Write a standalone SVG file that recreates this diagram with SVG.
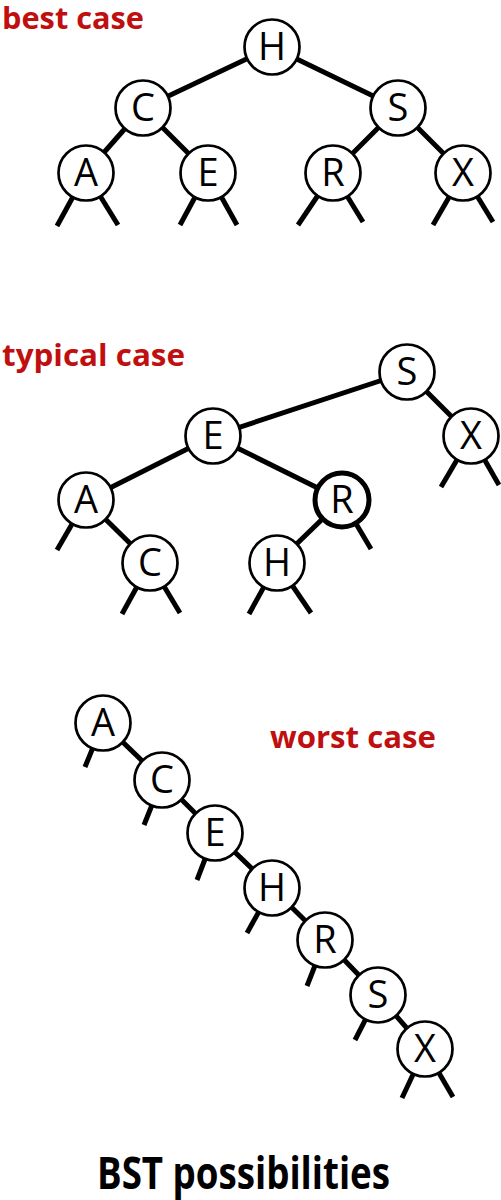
<svg xmlns="http://www.w3.org/2000/svg" width="501" height="1200" viewBox="0 0 501 1200">
<style>
.e{stroke:#000;stroke-width:5;fill:none;stroke-linecap:butt}
.n circle{fill:#fff;stroke:#000;stroke-width:2.7}
.n.bold circle{stroke-width:5}
.n text{font-family:"Open Sans","Noto Sans",sans-serif;font-size:38px;text-anchor:middle;fill:#000}
.lbl{font-family:"Open Sans","Noto Sans",sans-serif;font-weight:bold;font-size:31px;fill:#c00f0f}
.title{font-family:"Open Sans","Noto Sans",sans-serif;font-weight:bold;font-size:44px;fill:#000}
</style>
<rect width="501" height="1200" fill="#fff"/>
<text class="lbl" x="2" y="29" textLength="142" lengthAdjust="spacingAndGlyphs">best case</text>
<text class="lbl" x="2" y="366" textLength="183" lengthAdjust="spacingAndGlyphs">typical case</text>
<text class="lbl" x="270" y="748" textLength="166" lengthAdjust="spacingAndGlyphs">worst case</text>
<text class="title" x="97" y="1189" textLength="293" lengthAdjust="spacingAndGlyphs">BST possibilities</text>
<g id="connectors">
<line class="e" x1="272" y1="47" x2="143" y2="108"/>
<line class="e" x1="272" y1="47" x2="398" y2="108"/>
<line class="e" x1="143" y1="108" x2="86" y2="173"/>
<line class="e" x1="143" y1="108" x2="208" y2="173"/>
<line class="e" x1="398" y1="108" x2="333" y2="173"/>
<line class="e" x1="398" y1="108" x2="463" y2="173"/>
<line class="e" x1="86" y1="173" x2="57" y2="226"/>
<line class="e" x1="86" y1="173" x2="118" y2="225"/>
<line class="e" x1="208" y1="173" x2="180" y2="225"/>
<line class="e" x1="208" y1="173" x2="237" y2="225"/>
<line class="e" x1="333" y1="173" x2="298" y2="225"/>
<line class="e" x1="333" y1="173" x2="363" y2="222"/>
<line class="e" x1="463" y1="173" x2="433" y2="225"/>
<line class="e" x1="463" y1="173" x2="493" y2="222"/>
<line class="e" x1="407" y1="372" x2="213" y2="436"/>
<line class="e" x1="407" y1="372" x2="471" y2="436"/>
<line class="e" x1="213" y1="436" x2="86" y2="500"/>
<line class="e" x1="213" y1="436" x2="342" y2="500"/>
<line class="e" x1="86" y1="500" x2="150" y2="563"/>
<line class="e" x1="342" y1="500" x2="277" y2="563"/>
<line class="e" x1="471" y1="436" x2="441" y2="487"/>
<line class="e" x1="471" y1="436" x2="499" y2="485"/>
<line class="e" x1="86" y1="500" x2="57" y2="550"/>
<line class="e" x1="342" y1="500" x2="371" y2="549"/>
<line class="e" x1="150" y1="563" x2="122" y2="614"/>
<line class="e" x1="150" y1="563" x2="180" y2="613"/>
<line class="e" x1="277" y1="563" x2="249" y2="614"/>
<line class="e" x1="277" y1="563" x2="311" y2="613"/>
<line class="e" x1="103" y1="723" x2="162" y2="780"/>
<line class="e" x1="162" y1="780" x2="215" y2="833"/>
<line class="e" x1="215" y1="833" x2="272" y2="888"/>
<line class="e" x1="272" y1="888" x2="325" y2="940"/>
<line class="e" x1="325" y1="940" x2="378" y2="995"/>
<line class="e" x1="378" y1="995" x2="425" y2="1049"/>
<line class="e" x1="103" y1="723" x2="85" y2="767"/>
<line class="e" x1="162" y1="780" x2="144" y2="825"/>
<line class="e" x1="215" y1="833" x2="197" y2="880"/>
<line class="e" x1="272" y1="888" x2="247" y2="933"/>
<line class="e" x1="325" y1="940" x2="307" y2="986"/>
<line class="e" x1="378" y1="995" x2="355" y2="1040"/>
<line class="e" x1="425" y1="1049" x2="402" y2="1098"/>
<line class="e" x1="425" y1="1049" x2="453" y2="1097"/>
</g>
<g id="b-H" class="n"><circle cx="272" cy="47" r="27.5"/><text x="272" y="60">H</text></g>
<g id="b-C" class="n"><circle cx="143" cy="108" r="27.5"/><text x="143" y="121">C</text></g>
<g id="b-S" class="n"><circle cx="398" cy="108" r="27.5"/><text x="398" y="121">S</text></g>
<g id="b-A" class="n"><circle cx="86" cy="173" r="27.5"/><text x="86" y="186">A</text></g>
<g id="b-E" class="n"><circle cx="208" cy="173" r="27.5"/><text x="208" y="186">E</text></g>
<g id="b-R" class="n"><circle cx="333" cy="173" r="27.5"/><text x="333" y="186">R</text></g>
<g id="b-X" class="n"><circle cx="463" cy="173" r="27.5"/><text x="463" y="186">X</text></g>
<g id="t-S" class="n"><circle cx="407" cy="372" r="27.5"/><text x="407" y="385">S</text></g>
<g id="t-E" class="n"><circle cx="213" cy="436" r="27.5"/><text x="213" y="449">E</text></g>
<g id="t-X" class="n"><circle cx="471" cy="436" r="27.5"/><text x="471" y="449">X</text></g>
<g id="t-A" class="n"><circle cx="86" cy="500" r="27.5"/><text x="86" y="513">A</text></g>
<g id="t-R" class="n bold"><circle cx="342" cy="500" r="27"/><text x="342" y="513">R</text></g>
<g id="t-C" class="n"><circle cx="150" cy="563" r="27.5"/><text x="150" y="576">C</text></g>
<g id="t-H" class="n"><circle cx="277" cy="563" r="27.5"/><text x="277" y="576">H</text></g>
<g id="w-A" class="n"><circle cx="103" cy="723" r="27.5"/><text x="103" y="736">A</text></g>
<g id="w-C" class="n"><circle cx="162" cy="780" r="27.5"/><text x="162" y="793">C</text></g>
<g id="w-E" class="n"><circle cx="215" cy="833" r="27.5"/><text x="215" y="846">E</text></g>
<g id="w-H" class="n"><circle cx="272" cy="888" r="27.5"/><text x="272" y="901">H</text></g>
<g id="w-R" class="n"><circle cx="325" cy="940" r="27.5"/><text x="325" y="953">R</text></g>
<g id="w-S" class="n"><circle cx="378" cy="995" r="27.5"/><text x="378" y="1008">S</text></g>
<g id="w-X" class="n"><circle cx="425" cy="1049" r="27.5"/><text x="425" y="1062">X</text></g>
</svg>
